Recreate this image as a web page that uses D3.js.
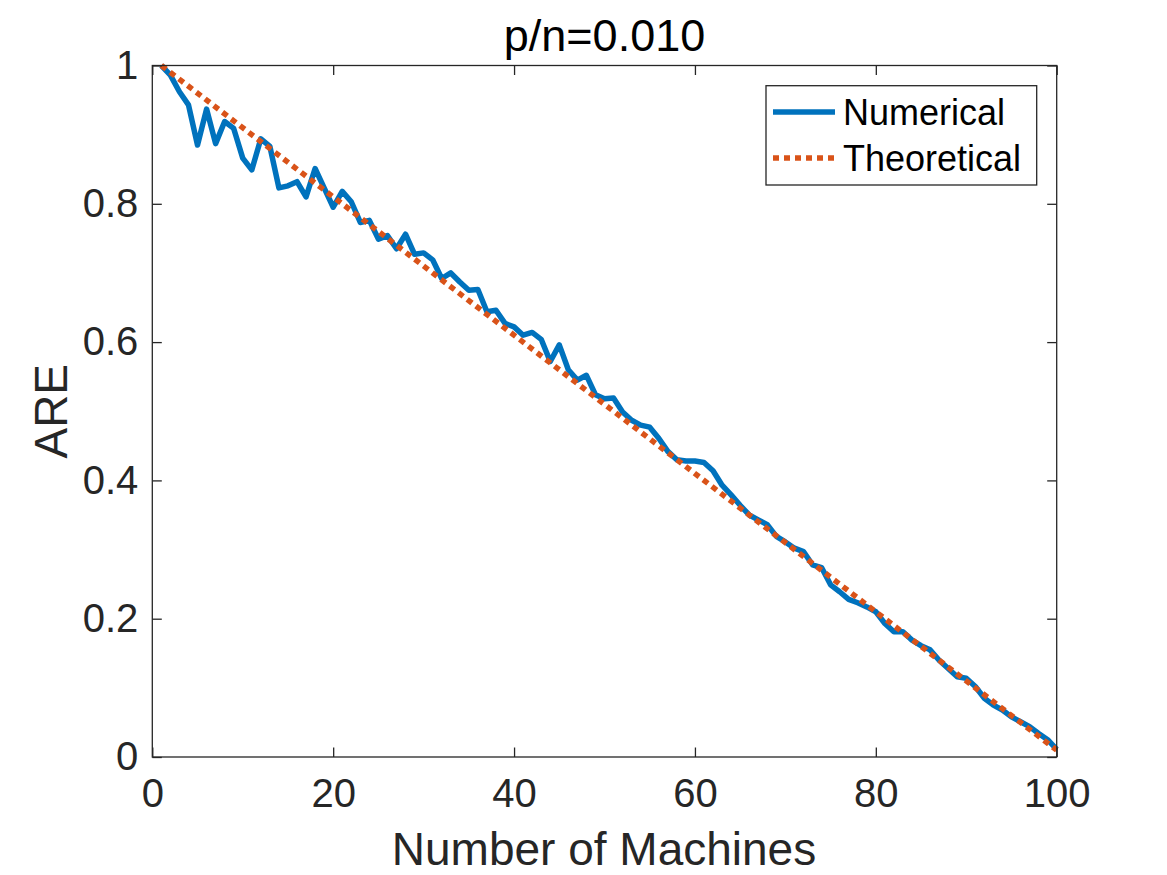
<!doctype html>
<html>
  <head>
    <meta charset="utf-8">
    <title>p/n=0.010</title>
    <script src="https://cdnjs.cloudflare.com/ajax/libs/d3/7.8.5/d3.min.js"></script>
    <style>
      body { margin: 0; background: #fff; }
      text { font-family: "Liberation Sans", Arial, Helvetica, sans-serif; }
    </style>
  </head>
  <body>
    <div id="chart"></div>
    <script>
      // values
      const numericalARE = [
        1.000, 0.986, 0.962, 0.943, 0.885, 0.937, 0.887, 0.919, 0.909, 0.866,
        0.849, 0.894, 0.883, 0.823, 0.826, 0.832, 0.810, 0.851, 0.823, 0.795,
        0.818, 0.803, 0.773, 0.776, 0.749, 0.754, 0.735, 0.756, 0.727, 0.729,
        0.719, 0.692, 0.700, 0.687, 0.675, 0.676, 0.644, 0.646, 0.627, 0.622,
        0.610, 0.614, 0.604, 0.572, 0.596, 0.560, 0.545, 0.552, 0.524, 0.518,
        0.519, 0.499, 0.487, 0.480, 0.477, 0.461, 0.442, 0.430, 0.428, 0.428,
        0.426, 0.414, 0.393, 0.379, 0.364, 0.350, 0.343, 0.336, 0.319, 0.311,
        0.302, 0.297, 0.278, 0.274, 0.249, 0.239, 0.228, 0.223, 0.217, 0.210,
        0.193, 0.181, 0.181, 0.169, 0.161, 0.155, 0.140, 0.128, 0.116, 0.114,
        0.102, 0.085, 0.075, 0.068, 0.058, 0.051, 0.044, 0.034, 0.025, 0.011
      ];
      // theoretical curve is a straight line between its two ends
      const theoryMachines = [1, 100];
      const theoryARE = [1.0, 0.01];

      const xTicks = [0, 20, 40, 60, 80, 100];
      const yTicks = [0, 0.2, 0.4, 0.6, 0.8, 1];
      const yTickLabels = ["0", "0.2", "0.4", "0.6", "0.8", "1"];
      const seriesNames = ["Numerical", "Theoretical"];

      const W = 1167, H = 875;
      const plotL = 152.3, plotR = 1056.7, plotT = 65.5, plotB = 757;
      const blue = "#0072BD", orange = "#D95319", axisCol = "#262626";

      const svg = d3.select("#chart").append("svg")
        .attr("width", W).attr("height", H);

      const x = d3.scaleLinear().domain([0, 100]).range([plotL, plotR]);
      const y = d3.scaleLinear().domain([0, 1]).range([plotB, plotT]);

      const numData = numericalARE.map((v, i) => ({ m: i + 1, v: v }));
      const theoryData = theoryMachines.map((m, i) => ({ m: m, v: theoryARE[i] }));

      const line = d3.line().x(d => x(d.m)).y(d => y(d.v));

      // plot lines
      svg.append("path")
        .datum(numData)
        .attr("d", line)
        .attr("fill", "none")
        .attr("stroke", blue)
        .attr("stroke-width", 5.5)
        .attr("stroke-linejoin", "round");

      svg.append("path")
        .datum(theoryData)
        .attr("d", line)
        .attr("fill", "none")
        .attr("stroke", orange)
        .attr("stroke-width", 5.5)
        .attr("stroke-dasharray", "6,5");

      // axes, ticks point inward
      const tick = 9.5;
      function styleAxis(g) {
        g.select(".domain").remove();
        g.selectAll(".tick line").attr("stroke", axisCol).attr("stroke-width", 1.3);
        g.selectAll(".tick text")
          .attr("fill", axisCol)
          .style("font-size", "40px")
          .style("font-family", '"Liberation Sans", Arial, sans-serif');
      }

      svg.append("g")
        .attr("transform", `translate(0,${plotB})`)
        .call(d3.axisBottom(x).tickValues(xTicks).tickSizeInner(-tick).tickSizeOuter(0).tickPadding(22))
        .call(styleAxis);

      svg.append("g")
        .attr("transform", `translate(0,${plotT})`)
        .call(d3.axisTop(x).tickValues(xTicks).tickSizeInner(-tick).tickSizeOuter(0).tickFormat(""))
        .call(styleAxis);

      svg.append("g")
        .attr("transform", `translate(${plotL},0)`)
        .call(d3.axisLeft(y).tickValues(yTicks).tickSizeInner(-tick).tickSizeOuter(0).tickPadding(14)
          .tickFormat((d, i) => yTickLabels[i]))
        .call(styleAxis);

      svg.append("g")
        .attr("transform", `translate(${plotR},0)`)
        .call(d3.axisRight(y).tickValues(yTicks).tickSizeInner(-tick).tickSizeOuter(0).tickFormat(""))
        .call(styleAxis);

      svg.append("rect")
        .attr("x", plotL).attr("y", plotT)
        .attr("width", plotR - plotL).attr("height", plotB - plotT)
        .attr("fill", "none")
        .attr("stroke", axisCol)
        .attr("stroke-width", 1.3);

      // title and labels
      svg.append("text")
        .attr("x", (plotL + plotR) / 2).attr("y", 51)
        .attr("text-anchor", "middle")
        .attr("fill", "#000")
        .style("font-size", "45px")
        .text("p/n=0.010");

      svg.append("text")
        .attr("x", 604).attr("y", 865)
        .attr("text-anchor", "middle")
        .attr("fill", axisCol)
        .style("font-size", "46px")
        .text("Number of Machines");

      svg.append("text")
        .attr("transform", `translate(67,${(plotT + plotB) / 2}) rotate(-90)`)
        .attr("text-anchor", "middle")
        .attr("fill", axisCol)
        .style("font-size", "46px")
        .text("ARE");

      // legend
      const lg = svg.append("g");
      lg.append("rect")
        .attr("x", 766).attr("y", 85.7)
        .attr("width", 1036.7 - 766).attr("height", 185 - 85.7)
        .attr("fill", "#fff")
        .attr("stroke", axisCol)
        .attr("stroke-width", 1.3);

      const legendRows = [
        { name: seriesNames[0], color: blue, dash: null, ly: 112 },
        { name: seriesNames[1], color: orange, dash: "6,5", ly: 158 }
      ];
      legendRows.forEach(r => {
        lg.append("line")
          .attr("x1", 773).attr("x2", 835)
          .attr("y1", r.ly).attr("y2", r.ly)
          .attr("stroke", r.color)
          .attr("stroke-width", 5.5)
          .attr("stroke-dasharray", r.dash);
        lg.append("text")
          .attr("x", 843).attr("y", r.ly + 13)
          .attr("fill", "#000")
          .style("font-size", "36px")
          .text(r.name);
      });
    </script>
  </body>
</html>
